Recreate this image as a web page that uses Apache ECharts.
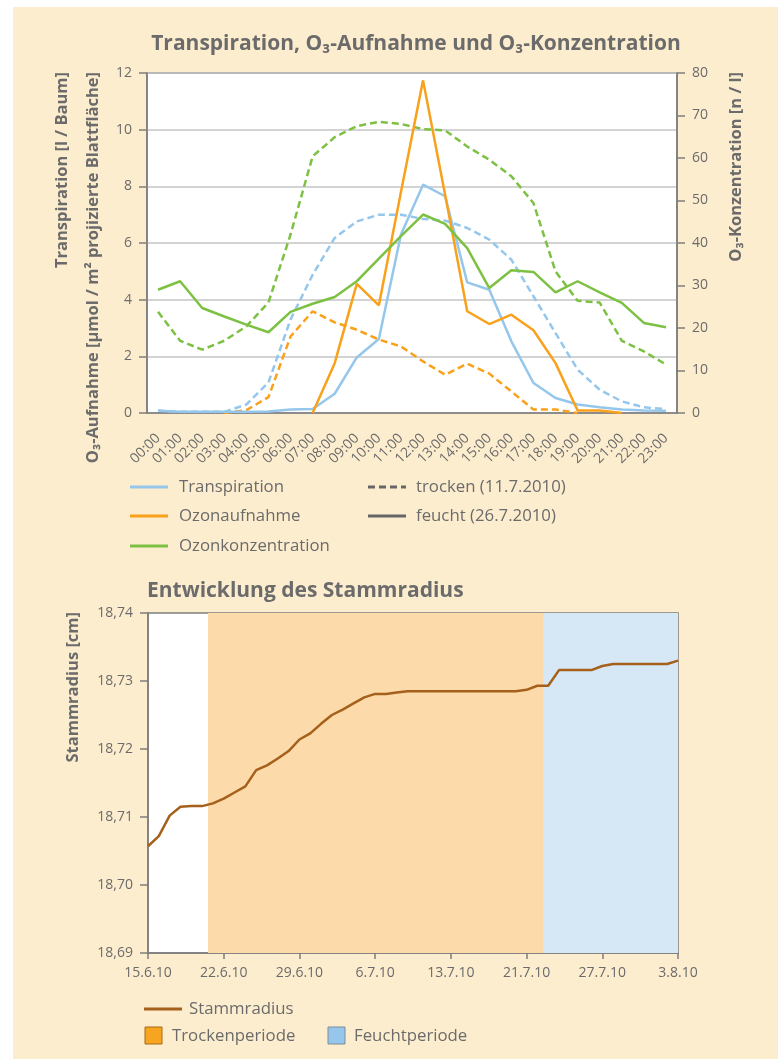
<!DOCTYPE html>
<html>
<head>
<meta charset="utf-8">
<script src="https://cdn.jsdelivr.net/npm/echarts@6/dist/echarts.min.js"></script>
<title>Transpiration und Stammradius</title>
<style>
  body { margin: 0; background: #fff; }
  #wrap { position: relative; width: 778px; height: 1059px; }
  #bg { position: absolute; left: 13px; top: 7px; right: 0; bottom: 0; background: #fdedcf; }
  #chart { position: absolute; left: 0; top: 0; width: 778px; height: 1059px; }
</style>
</head>
<body>
<div id="wrap">
  <div id="bg"></div>
  <div id="chart"></div>
</div>
<script type="text/javascript">
  // Stunden (oberes Diagramm)
  var hours = ['00:00', '01:00', '02:00', '03:00', '04:00', '05:00', '06:00', '07:00', '08:00', '09:00', '10:00', '11:00',
    '12:00', '13:00', '14:00', '15:00', '16:00', '17:00', '18:00', '19:00', '20:00', '21:00', '22:00', '23:00'];

  // Transpiration [l/Baum]
  var transFeucht = [0.08, 0.04, 0.04, 0.04, 0.04, 0.05, 0.12, 0.14, 0.68, 1.96, 2.61, 6.3,
    8.06, 7.65, 4.61, 4.35, 2.53, 1.06, 0.53, 0.3, 0.2, 0.12, 0.09, 0.08];
  var transTrocken = [0.09, 0.04, 0.04, 0.04, 0.3, 1.08, 3.3, 4.88, 6.18, 6.76, 7.0, 7.0,
    6.85, 6.79, 6.53, 6.12, 5.41, 4.12, 2.82, 1.53, 0.82, 0.41, 0.2, 0.14];

  // O3-Aufnahme
  var ozonFeucht = [null, null, null, null, null, null, null, 0, 1.76, 4.56, 3.8, 7.8,
    11.74, 7.7, 3.59, 3.14, 3.47, 2.92, 1.76, 0.09, 0.09, 0, null, null];
  var ozonTrocken = [null, null, null, 0, 0.1, 0.56, 2.7, 3.59, 3.2, 2.94, 2.59, 2.35,
    1.82, 1.35, 1.74, 1.39, 0.76, 0.12, 0.12, 0, null, null, null, null];

  // O3-Konzentration [n/l]
  var konzFeucht = [29.0, 31.0, 24.7, 22.7, 20.8, 19.0, 23.8, 25.7, 27.3, 31.0, 36.3, 41.6,
    46.7, 44.5, 38.8, 29.4, 33.6, 33.2, 28.4, 31.0, 28.4, 25.9, 21.2, 20.2];
  var konzTrocken = [23.8, 17.0, 14.9, 17.0, 20.4, 26.0, 42.0, 60.4, 64.9, 67.5, 68.5, 68.0,
    66.8, 66.5, 62.7, 59.6, 55.7, 49.4, 33.3, 26.4, 26.0, 17.0, 14.5, 11.4];

  // Stammradius [cm], täglich ab 15.6.10
  var stammradius = [18.7057, 18.7072, 18.7102, 18.7115, 18.7116, 18.7116, 18.7120, 18.7127, 18.7136, 18.7145,
    18.7169, 18.7176, 18.7186, 18.7197, 18.7214, 18.7223, 18.7237, 18.7250, 18.7258, 18.7267,
    18.7276, 18.7281, 18.7281, 18.7283, 18.7285, 18.7285, 18.7285, 18.7285, 18.7285, 18.7285,
    18.7285, 18.7285, 18.7285, 18.7285, 18.7285, 18.7287, 18.7293, 18.7293, 18.7316, 18.7316,
    18.7316, 18.7316, 18.7322, 18.7325, 18.7325, 18.7325, 18.7325, 18.7325, 18.7325, 18.7330];
  var dateTicks = ['15.6.10', '22.6.10', '29.6.10', '6.7.10', '13.7.10', '21.7.10', '27.7.10', '3.8.10'];

  // Perioden (Tag seit 15.6.10)
  var trockenPeriode = [5.55, 36.6];
  var feuchtPeriode = [36.6, 49];

  var BLUE = '#95c7ec', ORANGE = '#f9a11b', GREEN = '#7dc142', BROWN = '#a5601b';
  var GREY = '#6b6b6b', AXIS = '#7d7d7d';
  var FONT = "'Open Sans', sans-serif";
  var DASH = [7, 4];

  var myChart = echarts.init(document.getElementById('chart'));

  function lineSeries(name, data, color, dashed, yIdx) {
    return {
      name: name,
      type: 'line',
      xAxisIndex: 0,
      yAxisIndex: yIdx,
      data: data,
      symbol: 'none',
      silent: true,
      lineStyle: { color: color, width: 2.5, type: dashed ? DASH : 'solid' },
      z: dashed ? 2 : 3
    };
  }

  // Legende als Grafik
  function legLine(x, y, color, dash) {
    return { type: 'line', shape: { x1: x, y1: y, x2: x + 38, y2: y },
      style: { stroke: color, lineWidth: 3, lineDash: dash || null } };
  }
  function legText(x, y, txt) {
    return { type: 'text', x: x, y: y,
      style: { text: txt, fill: GREY, font: '16.8px ' + FONT, textVerticalAlign: 'middle' } };
  }
  function legBox(x, y, fill, stroke) {
    return { type: 'rect', shape: { x: x, y: y, width: 17, height: 17 },
      style: { fill: fill, stroke: stroke, lineWidth: 1 } };
  }
  function vText(x, y, txt, size) {
    return { type: 'text', x: x, y: y, rotation: Math.PI / 2,
      style: { text: txt, fill: GREY, font: 'bold ' + size + 'px ' + FONT, textAlign: 'right', textVerticalAlign: 'middle' } };
  }

  var axisLbl = { color: GREY, fontFamily: FONT, fontSize: 14 };

  var option = {
    animation: false,
    textStyle: { fontFamily: FONT },
    title: [{
      text: 'Transpiration, O₃-Aufnahme und O₃-Konzentration',
      left: 416, top: 34, textAlign: 'center', padding: 0,
      textStyle: { color: GREY, fontSize: 21, fontWeight: 'bold', fontFamily: FONT }
    }, {
      text: 'Entwicklung des Stammradius',
      left: 147, top: 581, padding: 0,
      textStyle: { color: GREY, fontSize: 21, fontWeight: 'bold', fontFamily: FONT }
    }],
    grid: [
      { left: 147, top: 73, width: 530, height: 340, show: true, backgroundColor: '#fff', borderColor: AXIS, borderWidth: 1.5 },
      { left: 148, top: 613, width: 530, height: 340, show: true, backgroundColor: '#fff', borderColor: AXIS, borderWidth: 1.5 }
    ],
    xAxis: [{
      gridIndex: 0,
      type: 'category',
      data: hours,
      boundaryGap: true,
      axisLine: { lineStyle: { color: AXIS, width: 1.5 } },
      axisTick: { length: 7, lineStyle: { color: AXIS, width: 1.5 } },
      axisLabel: { color: GREY, fontFamily: FONT, fontSize: 14, rotate: 45, interval: 0, margin: 23 }
    }, {
      gridIndex: 1,
      type: 'value',
      min: 0, max: 49, interval: 7,
      splitLine: { show: false },
      axisLine: { lineStyle: { color: AXIS, width: 1.5 } },
      axisTick: { length: 6, lineStyle: { color: AXIS, width: 1.5 } },
      axisLabel: {
        color: GREY, fontFamily: FONT, fontSize: 14, margin: 13,
        formatter: function (v) { return dateTicks[Math.round(v / 7)] || ''; }
      }
    }],
    yAxis: [{
      gridIndex: 0,
      type: 'value',
      min: 0, max: 12, interval: 2,
      axisLine: { show: true, lineStyle: { color: AXIS, width: 1.5 } },
      axisTick: { show: true, length: 8, lineStyle: { color: AXIS, width: 1.5 } },
      axisLabel: Object.assign({ margin: 15 }, axisLbl),
      splitLine: { lineStyle: { color: '#c4c4c4', width: 1.5 } }
    }, {
      gridIndex: 0,
      type: 'value',
      position: 'right',
      min: 0, max: 80, interval: 10,
      axisLine: { show: true, lineStyle: { color: AXIS, width: 1.5 } },
      axisTick: { show: true, length: 8, lineStyle: { color: AXIS, width: 1.5 } },
      axisLabel: Object.assign({ margin: 15 }, axisLbl),
      splitLine: { show: false }
    }, {
      gridIndex: 1,
      type: 'value',
      min: 18.69, max: 18.74, interval: 0.01,
      axisLine: { show: true, lineStyle: { color: AXIS, width: 1.5 } },
      axisTick: { show: true, length: 8, lineStyle: { color: AXIS, width: 1.5 } },
      axisLabel: Object.assign({
        margin: 15,
        formatter: function (v) { return v.toFixed(2).replace('.', ','); }
      }, axisLbl),
      splitLine: { show: false }
    }],
    series: [
      lineSeries('Transpiration trocken', transTrocken, BLUE, true, 0),
      lineSeries('Ozonaufnahme trocken', ozonTrocken, ORANGE, true, 0),
      lineSeries('Ozonkonzentration trocken', konzTrocken, GREEN, true, 1),
      lineSeries('Transpiration feucht', transFeucht, BLUE, false, 0),
      lineSeries('Ozonaufnahme feucht', ozonFeucht, ORANGE, false, 0),
      lineSeries('Ozonkonzentration feucht', konzFeucht, GREEN, false, 1),
      {
        name: 'Stammradius',
        type: 'line',
        xAxisIndex: 1,
        yAxisIndex: 2,
        data: stammradius.map(function (v, i) { return [i, v]; }),
        symbol: 'none',
        silent: true,
        lineStyle: { color: BROWN, width: 2.5 },
        markArea: {
          silent: true,
          label: { show: false },
          data: [
            [{ xAxis: trockenPeriode[0], itemStyle: { color: '#fcdaa9' } }, { xAxis: trockenPeriode[1] }],
            [{ xAxis: feuchtPeriode[0], itemStyle: { color: '#d6e8f6' } }, { xAxis: feuchtPeriode[1] }]
          ]
        }
      }
    ],
    graphic: [
      vText(62, 72, 'Transpiration [l / Baum]', 16.5),
      vText(93, 72, 'O₃-Aufnahme [µmol / m² projizierte Blattfläche]', 16.5),
      vText(736, 72, 'O₃-Konzentration [n / l]', 16.5),
      vText(73, 612, 'Stammradius [cm]', 16.5),

      legLine(130, 487, BLUE), legText(179, 487, 'Transpiration'),
      legLine(130, 516, ORANGE), legText(179, 516, 'Ozonaufnahme'),
      legLine(130, 546, GREEN), legText(179, 546, 'Ozonkonzentration'),
      legLine(368, 487, '#666', DASH), legText(416, 487, 'trocken (11.7.2010)'),
      legLine(368, 516, '#666'), legText(416, 516, 'feucht (26.7.2010)'),

      legLine(144, 1009, BROWN), legText(189, 1009, 'Stammradius'),
      legBox(145, 1027, '#f7a521', '#a36a16'), legText(172, 1036, 'Trockenperiode'),
      legBox(328, 1027, '#96c6ec', '#7d8c99'), legText(354, 1036, 'Feuchtperiode')
    ]
  };

  myChart.setOption(option);
</script>
</body>
</html>
